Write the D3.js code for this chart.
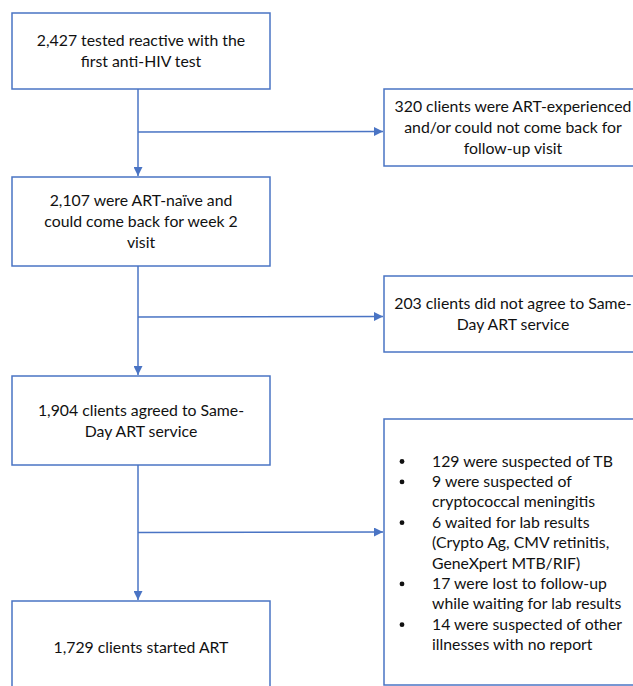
<!DOCTYPE html>
<html>
<head>
<meta charset="utf-8">
<script src="https://cdn.jsdelivr.net/npm/d3@7"></script>
<style>
  html, body { margin: 0; padding: 0; background: #fff; }
  svg { display: block; }
  text { font-family: Lato, "Open Sans", sans-serif; fill: #111; }
</style>
</head>
<body>
<svg id="chart" width="633" height="686"></svg>
<script>
// ---- data ----
const mainCounts = [2427, 2107, 1904, 1729];
const mainLabels = [
  ["2,427 tested reactive with the", "first anti-HIV test"],
  ["2,107 were ART-naïve and", "could come back for week 2", "visit"],
  ["1,904 clients agreed to Same-", "Day ART service"],
  ["1,729 clients started ART"]
];
const exclCounts = [320, 203, 175];
const exclLabels = [
  ["320 clients were ART-experienced", "and/or could not come back for", "follow-up visit"],
  ["203 clients did not agree to Same-", "Day ART service"]
];
const reasonCounts = [129, 9, 6, 17, 14];
const reasonLabels = [
  ["129 were suspected of TB"],
  ["9 were suspected of", "cryptococcal meningitis"],
  ["6 waited for lab results", "(Crypto Ag, CMV retinitis,", "GeneXpert MTB/RIF)"],
  ["17 were lost to follow-up", "while waiting for lab results"],
  ["14 were suspected of other", "illnesses with no report"]
];

// ---- layout ----
const blue = "#4a74c4";
const svg = d3.select("#chart");
const fs = 15.8, lh = 21;

const mainBoxes = [
  {x: 12, y: 13, w: 258, h: 76},
  {x: 12, y: 177, w: 258, h: 89},
  {x: 12, y: 376, w: 258, h: 89},
  {x: 12, y: 601, w: 258, h: 92}
];
const sideBoxes = [
  {x: 384, y: 89, w: 258, h: 77},
  {x: 384, y: 276, w: 258, h: 76},
  {x: 384, y: 419, w: 258, h: 266}
];
const branchY = [132, 317, 532.5];

svg.append("defs").append("marker")
  .attr("id", "arrow")
  .attr("viewBox", "0 0 10 10")
  .attr("refX", 10).attr("refY", 5)
  .attr("markerUnits", "userSpaceOnUse")
  .attr("markerWidth", 9).attr("markerHeight", 9)
  .attr("orient", "auto")
  .append("path").attr("d", "M0,0 L10,5 L0,10 Z").attr("fill", blue);

// connectors
const cx = 138;
for (let i = 0; i < 3; i++) {
  svg.append("line")
    .attr("x1", cx).attr("y1", mainBoxes[i].y + mainBoxes[i].h)
    .attr("x2", cx).attr("y2", mainBoxes[i + 1].y - 1)
    .attr("stroke", blue).attr("stroke-width", 1.5)
    .attr("marker-end", "url(#arrow)");
  svg.append("line")
    .attr("x1", cx).attr("y1", branchY[i])
    .attr("x2", sideBoxes[i].x - 1).attr("y2", branchY[i] - 0.5)
    .attr("stroke", blue).attr("stroke-width", 1.5)
    .attr("marker-end", "url(#arrow)");
}

function drawBox(b) {
  svg.append("rect")
    .attr("x", b.x).attr("y", b.y).attr("width", b.w).attr("height", b.h)
    .attr("fill", "#fff").attr("stroke", blue).attr("stroke-width", 1.5);
}
function centeredText(b, lines) {
  const n = lines.length;
  const cy = b.y + b.h / 2;
  const t = svg.append("text")
    .attr("text-anchor", "middle")
    .attr("font-size", fs);
  lines.forEach((l, i) => {
    t.append("tspan")
      .attr("x", b.x + b.w / 2)
      .attr("y", cy + (i - (n - 1) / 2) * lh)
      .attr("dy", "0.35em")
      .text(l);
  });
}

mainBoxes.forEach((b, i) => { drawBox(b); centeredText(b, mainLabels[i]); });
sideBoxes.forEach((b, i) => { drawBox(b); if (exclLabels[i]) centeredText(b, exclLabels[i]); });

// bullet list in last side box
const blh = 20.4;
let row = 0;
const firstY = 461;
reasonLabels.forEach((lines) => {
  svg.append("circle")
    .attr("cx", 402).attr("cy", firstY + row * blh + 0.5)
    .attr("r", 2.4).attr("fill", "#111");
  lines.forEach((l) => {
    svg.append("text")
      .attr("x", 432).attr("y", firstY + row * blh)
      .attr("dy", "0.35em")
      .attr("font-size", fs)
      .text(l);
    row++;
  });
});
</script>
</body>
</html>
